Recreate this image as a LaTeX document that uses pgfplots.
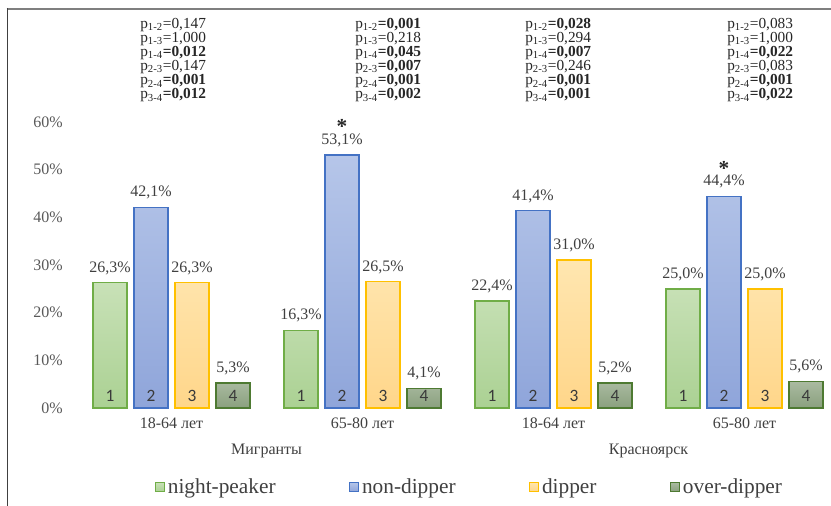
\documentclass[border=0pt]{standalone}
\usepackage{pgfplots}
\usepackage{pgfplotstable}
\pgfplotsset{compat=1.18}
\usepackage{fontspec}
\setmainfont{Liberation Serif}
\newfontfamily\calibri{Carlito}
\definecolor{ngB}{HTML}{70AD47}\definecolor{ngT}{HTML}{C8E1B7}\definecolor{ngD}{HTML}{ABD193}
\definecolor{ndB}{HTML}{4472C4}\definecolor{ndT}{HTML}{B6C6E9}\definecolor{ndD}{HTML}{8FA5DA}
\definecolor{dpB}{HTML}{FFC000}\definecolor{dpT}{HTML}{FFE6B0}\definecolor{dpD}{HTML}{FFD68A}
\definecolor{odB}{HTML}{4E7A32}\definecolor{odT}{HTML}{AABBA1}\definecolor{odD}{HTML}{8AA07E}
\definecolor{tickgray}{HTML}{595959}
\definecolor{labgray}{HTML}{404040}
\definecolor{framegray}{HTML}{7F7F7F}
\pgfplotstableread{
g ng nd dp od
0 26.3 42.1 26.3 5.3
1 16.3 53.1 26.5 4.1
2 22.4 41.4 31.0 5.2
3 25.0 44.4 25.0 5.6
}\data
\pgfplotsset{
  mylegend/.style={legend image code/.code={\draw[##1,line width=0.8pt] (0pt,-3.5pt) rectangle (7pt,3.5pt);}},
  vallab/.style={nodes near coords={\pgfmathprintnumber[use comma,fixed,fixed zerofill,precision=1]{\pgfplotspointmeta}\%},
    every node near coord/.append style={font=\fontsize{12}{14}\selectfont, text=labgray, inner sep=0.5pt, yshift=5pt}},
  numlab/.style={draw=none, mark=none, forget plot,
    nodes near coords={#1},
    every node near coord/.append style={anchor=center, font=\calibri\fontsize{13}{14}\selectfont, text=labgray!90!black}},
}
\begin{document}
\begin{tikzpicture}
\useasboundingbox (0,0) rectangle (623.25pt,-379.5pt);
\draw[framegray, line width=1.5pt] (5pt,-6.75pt) -- (623.25pt,-6.75pt);
\draw[labgray, line width=0.8pt] (5.6pt,-6pt) -- (5.6pt,-379.5pt);
\begin{axis}[
  at={(57pt,-306pt)}, anchor=south west,
  scale only axis, width=566.25pt, height=214.5pt,
  xmin=-0.5, xmax=3.453, ymin=0, ymax=60,
  axis line style={draw=none}, tick style={draw=none},
  xtick={0,1,2,3}, xticklabels={18-64 лет,65-80 лет,18-64 лет,65-80 лет},
  ytick={0,10,20,30,40,50,60},
  yticklabel={\pgfmathprintnumber{\tick}\%},
  /pgf/number format/assume math mode=true,
  yticklabel style={font=\fontsize{12}{14}\selectfont, text=tickgray, xshift=-6.5pt},
  xticklabel style={font=\fontsize{12}{14}\selectfont, text=labgray, yshift=-4pt},
  clip=false,
  bar width=0.178,
  legend columns=4,
  legend style={at={(0.5215,-0.2762)}, anchor=center, draw=none, fill=none,
    font=\fontsize{16}{18}\selectfont, text=labgray,
    /tikz/every even column/.append style={column sep=53pt}},
  legend cell align=left,
]
% night-peaker
\addplot[ybar, bar shift=0, draw=ngB, line width=1.2pt, top color=ngT, bottom color=ngD, vallab, mylegend]
  table[x expr=\thisrow{g}-0.322, y=ng] {\data};
\addlegendentry{night-peaker}
% non-dipper
\addplot[ybar, bar shift=0, draw=ndB, line width=1.2pt, top color=ndT, bottom color=ndD, vallab, mylegend]
  table[x expr=\thisrow{g}-0.1073, y=nd] {\data};
\addlegendentry{non-dipper}
% dipper
\addplot[ybar, bar shift=0, draw=dpB, line width=1.2pt, top color=dpT, bottom color=dpD, vallab, mylegend]
  table[x expr=\thisrow{g}+0.1073, y=dp] {\data};
\addlegendentry{dipper}
% over-dipper
\addplot[ybar, bar shift=0, draw=odB, line width=1.2pt, top color=odT, bottom color=odD, vallab, mylegend]
  table[x expr=\thisrow{g}+0.322, y=od] {\data};
\addlegendentry{over-dipper}
% numbers inside bars
\addplot[numlab=1] table[x expr=\thisrow{g}-0.322, y expr=2.5] {\data};
\addplot[numlab=2] table[x expr=\thisrow{g}-0.1073, y expr=2.5] {\data};
\addplot[numlab=3] table[x expr=\thisrow{g}+0.1073, y expr=2.5] {\data};
\addplot[numlab=4] table[x expr=\thisrow{g}+0.322, y expr=2.5] {\data};
% asterisks
\node[inner sep=0pt, font=\bfseries\fontsize{16}{16}\selectfont, text=black!85] at (axis cs:0.8927,53.1) [yshift=21pt] {*};
\node[inner sep=0pt, font=\bfseries\fontsize{16}{16}\selectfont, text=black!85] at (axis cs:2.8927,44.4) [yshift=21pt] {*};
\end{axis}
% group labels
\node[font=\fontsize{12}{14}\selectfont, text=labgray] at (199.9pt,-338.25pt) {Мигранты};
\node[font=\fontsize{12}{14}\selectfont, text=labgray] at (486.4pt,-338.25pt) {Красноярск};
% p-values
\begin{scope}[every node/.style={anchor=west, align=left, inner sep=0pt, font=\fontsize{11.5}{10.6}\selectfont, text=black!85}]
\node at (105pt,-45pt) {p\textsubscript{1-2}=0,147\\p\textsubscript{1-3}=1,000\\p\textsubscript{1-4}\textbf{=0,012}\\p\textsubscript{2-3}=0,147\\p\textsubscript{2-4}\textbf{=0,001}\\p\textsubscript{3-4}\textbf{=0,012}};
\node at (266.25pt,-45pt) {p\textsubscript{1-2}\textbf{=0,001}\\p\textsubscript{1-3}=0,218\\p\textsubscript{1-4}\textbf{=0,045}\\p\textsubscript{2-3}\textbf{=0,007}\\p\textsubscript{2-4}\textbf{=0,001}\\p\textsubscript{3-4}\textbf{=0,002}};
\node at (393.75pt,-45pt) {p\textsubscript{1-2}\textbf{=0,028}\\p\textsubscript{1-3}=0,294\\p\textsubscript{1-4}\textbf{=0,007}\\p\textsubscript{2-3}=0,246\\p\textsubscript{2-4}\textbf{=0,001}\\p\textsubscript{3-4}\textbf{=0,001}};
\node at (545.25pt,-45pt) {p\textsubscript{1-2}=0,083\\p\textsubscript{1-3}=1,000\\p\textsubscript{1-4}\textbf{=0,022}\\p\textsubscript{2-3}=0,083\\p\textsubscript{2-4}\textbf{=0,001}\\p\textsubscript{3-4}\textbf{=0,022}};
\end{scope}
\end{tikzpicture}
\end{document}
